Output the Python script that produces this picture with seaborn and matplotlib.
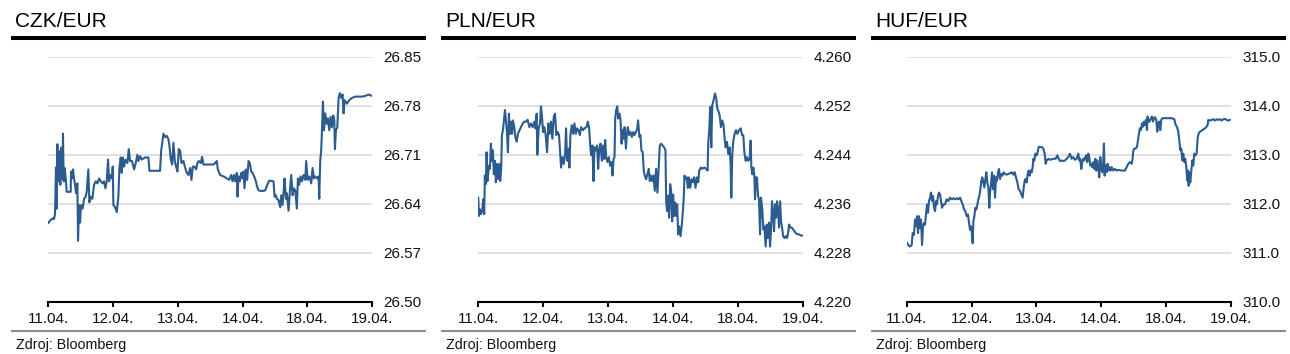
import numpy as np
import pandas as pd
import matplotlib
matplotlib.use("Agg")
import matplotlib.pyplot as plt
import seaborn as sns
from matplotlib.lines import Line2D

sns.set_style("white")
plt.rcParams['font.family'] = ['Liberation Sans', 'DejaVu Sans']

# ---------------- data ----------------
date_labels = ["11.04.", "12.04.", "13.04.", "14.04.", "18.04.", "19.04."]
titles = ["CZK/EUR", "PLN/EUR", "HUF/EUR"]
source_text = "Zdroj: Bloomberg"

czk_ticks = [26.50, 26.57, 26.64, 26.71, 26.78, 26.85]
pln_ticks = [4.220, 4.228, 4.236, 4.244, 4.252, 4.260]
huf_ticks = [310.0, 311.0, 312.0, 313.0, 314.0, 315.0]

# time in trading days from 11.04. (0) to 19.04. (5)
czk_t = [0.000, 0.031, 0.072, 0.092, 0.108, 0.123, 0.134, 0.144, 0.159, 0.175,
         0.190, 0.206, 0.221, 0.231, 0.242, 0.257, 0.273, 0.288, 0.350, 0.355,
         0.370, 0.386, 0.401, 0.417, 0.432, 0.453, 0.463, 0.478, 0.494, 0.509,
         0.535, 0.556, 0.581, 0.597, 0.622, 0.638, 0.658, 0.684, 0.710, 0.736,
         0.761, 0.787, 0.813, 0.844, 0.864, 0.885, 0.905, 0.926, 0.941, 0.967,
         0.988, 0.998, 1.008, 1.034, 1.060, 1.085, 1.101, 1.121, 1.137, 1.152,
         1.173, 1.193, 1.224, 1.245, 1.265, 1.296, 1.327, 1.353, 1.378, 1.394,
         1.420, 1.445, 1.497, 1.548, 1.564, 1.728, 1.744, 1.759, 1.780, 1.806,
         1.831, 1.857, 1.872, 1.893, 1.914, 1.934, 1.955, 1.975, 1.996, 2.016,
         2.037, 2.058, 2.088, 2.109, 2.140, 2.166, 2.191, 2.212, 2.232, 2.258,
         2.284, 2.304, 2.325, 2.356, 2.376, 2.397, 2.500, 2.551, 2.577, 2.603,
         2.618, 2.654, 2.706, 2.757, 2.793, 2.824, 2.845, 2.865, 2.886, 2.911,
         2.922, 2.937, 2.958, 2.978, 2.999, 3.014, 3.030, 3.050, 3.071, 3.092,
         3.112, 3.133, 3.153, 3.179, 3.205, 3.225, 3.246, 3.297, 3.349, 3.380,
         3.410, 3.477, 3.493, 3.513, 3.529, 3.554, 3.580, 3.596, 3.616, 3.637,
         3.647, 3.668, 3.683, 3.709, 3.729, 3.750, 3.771, 3.791, 3.812, 3.837,
         3.853, 3.873, 3.894, 3.915, 3.940, 3.966, 3.981, 4.002, 4.028, 4.059,
         4.079, 4.100, 4.120, 4.151, 4.172, 4.182, 4.197, 4.213, 4.223, 4.239,
         4.254, 4.275, 4.295, 4.316, 4.336, 4.357, 4.378, 4.398, 4.414, 4.424,
         4.439, 4.460, 4.480, 4.501, 4.521, 4.542, 4.557, 4.573, 4.609, 4.645,
         4.686, 4.737, 4.789, 4.840, 4.892, 4.943, 4.995]
czk_v = [26.612, 26.616, 26.619, 26.618, 26.625, 26.692, 26.633, 26.725, 26.672, 26.715,
         26.667, 26.720, 26.676, 26.740, 26.672, 26.691, 26.676, 26.657, 26.657, 26.686,
         26.676, 26.689, 26.676, 26.667, 26.655, 26.669, 26.587, 26.638, 26.613, 26.638,
         26.633, 26.647, 26.650, 26.657, 26.689, 26.642, 26.650, 26.647, 26.667, 26.672,
         26.669, 26.676, 26.672, 26.669, 26.672, 26.662, 26.672, 26.703, 26.672, 26.681,
         26.676, 26.693, 26.638, 26.635, 26.628, 26.650, 26.691, 26.706, 26.684, 26.706,
         26.693, 26.703, 26.698, 26.718, 26.701, 26.701, 26.689, 26.698, 26.710, 26.701,
         26.708, 26.703, 26.706, 26.706, 26.687, 26.687, 26.715, 26.725, 26.740, 26.735,
         26.737, 26.732, 26.723, 26.703, 26.696, 26.727, 26.701, 26.693, 26.686, 26.718,
         26.716, 26.698, 26.701, 26.693, 26.684, 26.681, 26.691, 26.674, 26.693, 26.693,
         26.689, 26.698, 26.701, 26.698, 26.707, 26.696, 26.696, 26.696, 26.698, 26.701,
         26.689, 26.681, 26.679, 26.676, 26.674, 26.681, 26.672, 26.681, 26.672, 26.684,
         26.650, 26.679, 26.672, 26.684, 26.676, 26.686, 26.662, 26.689, 26.674, 26.701,
         26.698, 26.686, 26.684, 26.679, 26.672, 26.664, 26.659, 26.658, 26.659, 26.667,
         26.673, 26.672, 26.650, 26.652, 26.647, 26.645, 26.635, 26.652, 26.638, 26.662,
         26.676, 26.647, 26.655, 26.630, 26.657, 26.681, 26.652, 26.662, 26.659, 26.633,
         26.676, 26.667, 26.679, 26.672, 26.681, 26.674, 26.701, 26.674, 26.679, 26.669,
         26.691, 26.676, 26.679, 26.676, 26.679, 26.647, 26.701, 26.718, 26.742, 26.786,
         26.745, 26.769, 26.754, 26.762, 26.745, 26.764, 26.749, 26.766, 26.759, 26.718,
         26.745, 26.749, 26.791, 26.798, 26.791, 26.796, 26.769, 26.788, 26.783, 26.788,
         26.791, 26.793, 26.793, 26.793, 26.794, 26.796, 26.794]

pln_t = [0.000, 0.009, 0.024, 0.040, 0.060, 0.076, 0.091, 0.101, 0.117, 0.127,
         0.143, 0.163, 0.179, 0.194, 0.210, 0.225, 0.240, 0.256, 0.271, 0.287,
         0.307, 0.323, 0.338, 0.354, 0.364, 0.380, 0.395, 0.411, 0.426, 0.441,
         0.457, 0.472, 0.488, 0.503, 0.519, 0.534, 0.555, 0.570, 0.591, 0.611,
         0.637, 0.658, 0.684, 0.709, 0.735, 0.761, 0.787, 0.812, 0.838, 0.864,
         0.879, 0.900, 0.910, 0.931, 0.951, 0.967, 0.982, 0.998, 1.018, 1.039,
         1.060, 1.080, 1.101, 1.121, 1.142, 1.163, 1.183, 1.204, 1.225, 1.245,
         1.261, 1.276, 1.297, 1.317, 1.338, 1.353, 1.369, 1.389, 1.405, 1.420,
         1.441, 1.462, 1.482, 1.503, 1.523, 1.544, 1.565, 1.585, 1.616, 1.637,
         1.668, 1.688, 1.709, 1.724, 1.740, 1.760, 1.776, 1.791, 1.812, 1.832,
         1.848, 1.863, 1.884, 1.905, 1.925, 1.941, 1.956, 1.972, 1.992, 2.013,
         2.033, 2.054, 2.069, 2.085, 2.100, 2.111, 2.126, 2.142, 2.157, 2.178,
         2.193, 2.209, 2.224, 2.239, 2.255, 2.276, 2.291, 2.306, 2.327, 2.348,
         2.368, 2.389, 2.409, 2.430, 2.451, 2.463, 2.484, 2.499, 2.515, 2.535,
         2.551, 2.566, 2.587, 2.607, 2.628, 2.644, 2.659, 2.680, 2.700, 2.721,
         2.741, 2.762, 2.783, 2.798, 2.819, 2.844, 2.865, 2.886, 2.896, 2.911,
         2.927, 2.942, 2.958, 2.973, 2.989, 3.004, 3.020, 3.035, 3.051, 3.066,
         3.081, 3.097, 3.118, 3.138, 3.154, 3.169, 3.179, 3.195, 3.215, 3.231,
         3.246, 3.267, 3.288, 3.308, 3.329, 3.349, 3.370, 3.391, 3.406, 3.432,
         3.452, 3.483, 3.514, 3.535, 3.545, 3.561, 3.576, 3.592, 3.607, 3.628,
         3.648, 3.669, 3.684, 3.705, 3.720, 3.741, 3.762, 3.782, 3.798, 3.813,
         3.834, 3.854, 3.875, 3.890, 3.901, 3.916, 3.932, 3.952, 3.973, 3.993,
         4.019, 4.045, 4.065, 4.086, 4.102, 4.122, 4.143, 4.163, 4.184, 4.199,
         4.210, 4.225, 4.241, 4.256, 4.266, 4.282, 4.297, 4.313, 4.328, 4.344,
         4.359, 4.380, 4.395, 4.411, 4.431, 4.447, 4.462, 4.483, 4.498, 4.514,
         4.529, 4.545, 4.560, 4.576, 4.591, 4.606, 4.622, 4.637, 4.653, 4.668,
         4.684, 4.699, 4.720, 4.740, 4.761, 4.776, 4.792, 4.813, 4.833, 4.854,
         4.874, 4.895, 4.921, 4.946, 4.972, 4.998]
pln_v = [4.2370, 4.2340, 4.2351, 4.2343, 4.2348, 4.2367, 4.2343, 4.2406, 4.2392, 4.2444,
         4.2397, 4.2422, 4.2417, 4.2458, 4.2430, 4.2447, 4.2408, 4.2430, 4.2395, 4.2425,
         4.2400, 4.2425, 4.2397, 4.2419, 4.2472, 4.2480, 4.2496, 4.2513, 4.2496, 4.2477,
         4.2444, 4.2507, 4.2474, 4.2494, 4.2474, 4.2496, 4.2485, 4.2469, 4.2461, 4.2474,
         4.2480, 4.2485, 4.2491, 4.2494, 4.2494, 4.2497, 4.2485, 4.2491, 4.2485, 4.2494,
         4.2483, 4.2507, 4.2440, 4.2483, 4.2491, 4.2519, 4.2502, 4.2477, 4.2485, 4.2472,
         4.2444, 4.2491, 4.2474, 4.2494, 4.2466, 4.2502, 4.2507, 4.2472, 4.2477, 4.2472,
         4.2444, 4.2419, 4.2436, 4.2425, 4.2441, 4.2483, 4.2430, 4.2450, 4.2419, 4.2472,
         4.2488, 4.2474, 4.2491, 4.2474, 4.2483, 4.2480, 4.2472, 4.2485, 4.2480, 4.2483,
         4.2485, 4.2494, 4.2483, 4.2458, 4.2439, 4.2455, 4.2397, 4.2452, 4.2447, 4.2455,
         4.2417, 4.2447, 4.2458, 4.2430, 4.2455, 4.2433, 4.2464, 4.2436, 4.2428, 4.2436,
         4.2422, 4.2428, 4.2406, 4.2433, 4.2436, 4.2499, 4.2513, 4.2519, 4.2499, 4.2507,
         4.2496, 4.2458, 4.2480, 4.2466, 4.2485, 4.2450, 4.2474, 4.2485, 4.2472, 4.2477,
         4.2469, 4.2477, 4.2472, 4.2477, 4.2483, 4.2496, 4.2469, 4.2472, 4.2447, 4.2444,
         4.2414, 4.2406, 4.2400, 4.2408, 4.2417, 4.2397, 4.2406, 4.2397, 4.2406, 4.2381,
         4.2417, 4.2378, 4.2425, 4.2455, 4.2458, 4.2455, 4.2452, 4.2447, 4.2364, 4.2348,
         4.2373, 4.2337, 4.2392, 4.2381, 4.2331, 4.2375, 4.2340, 4.2362, 4.2340, 4.2359,
         4.2310, 4.2323, 4.2307, 4.2326, 4.2348, 4.2373, 4.2406, 4.2400, 4.2403, 4.2386,
         4.2403, 4.2386, 4.2400, 4.2395, 4.2403, 4.2386, 4.2403, 4.2395, 4.2414, 4.2419,
         4.2417, 4.2419, 4.2417, 4.2414, 4.2458, 4.2480, 4.2518, 4.2452, 4.2521, 4.2529,
         4.2540, 4.2532, 4.2516, 4.2510, 4.2505, 4.2485, 4.2496, 4.2488, 4.2466, 4.2452,
         4.2461, 4.2441, 4.2452, 4.2425, 4.2370, 4.2441, 4.2463, 4.2474, 4.2480, 4.2474,
         4.2480, 4.2483, 4.2472, 4.2472, 4.2444, 4.2430, 4.2436, 4.2430, 4.2433, 4.2463,
         4.2419, 4.2408, 4.2419, 4.2406, 4.2367, 4.2403, 4.2403, 4.2373, 4.2367, 4.2310,
         4.2370, 4.2348, 4.2318, 4.2323, 4.2290, 4.2326, 4.2304, 4.2329, 4.2290, 4.2318,
         4.2364, 4.2345, 4.2315, 4.2359, 4.2337, 4.2364, 4.2348, 4.2321, 4.2364, 4.2331,
         4.2321, 4.2307, 4.2304, 4.2307, 4.2304, 4.2312, 4.2326, 4.2321, 4.2321, 4.2318,
         4.2315, 4.2312, 4.2310, 4.2310, 4.2308, 4.2308]

huf_t = [0.000, 0.025, 0.051, 0.077, 0.092, 0.113, 0.128, 0.144, 0.159, 0.175,
         0.190, 0.205, 0.221, 0.236, 0.252, 0.267, 0.282, 0.298, 0.313, 0.329,
         0.344, 0.360, 0.375, 0.390, 0.406, 0.421, 0.437, 0.452, 0.467, 0.483,
         0.498, 0.514, 0.529, 0.545, 0.565, 0.591, 0.616, 0.642, 0.668, 0.694,
         0.719, 0.745, 0.771, 0.796, 0.822, 0.843, 0.863, 0.884, 0.904, 0.925,
         0.945, 0.961, 0.976, 0.992, 1.007, 1.017, 1.028, 1.043, 1.058, 1.074,
         1.089, 1.105, 1.120, 1.136, 1.151, 1.166, 1.182, 1.197, 1.213, 1.228,
         1.243, 1.259, 1.274, 1.285, 1.300, 1.315, 1.331, 1.346, 1.362, 1.377,
         1.392, 1.408, 1.423, 1.439, 1.454, 1.475, 1.495, 1.516, 1.541, 1.567,
         1.593, 1.619, 1.644, 1.665, 1.685, 1.706, 1.726, 1.747, 1.768, 1.788,
         1.804, 1.819, 1.834, 1.850, 1.865, 1.881, 1.896, 1.911, 1.927, 1.942,
         1.953, 1.968, 1.983, 2.004, 2.019, 2.035, 2.053, 2.081, 2.107, 2.127,
         2.143, 2.158, 2.184, 2.210, 2.261, 2.297, 2.323, 2.343, 2.364, 2.389,
         2.415, 2.441, 2.491, 2.517, 2.543, 2.568, 2.594, 2.620, 2.646, 2.661,
         2.676, 2.692, 2.707, 2.723, 2.738, 2.753, 2.769, 2.784, 2.800, 2.815,
         2.831, 2.846, 2.861, 2.877, 2.892, 2.908, 2.923, 2.938, 2.954, 2.969,
         2.985, 3.000, 3.016, 3.031, 3.041, 3.052, 3.067, 3.082, 3.098, 3.113,
         3.129, 3.144, 3.159, 3.185, 3.211, 3.237, 3.262, 3.314, 3.365, 3.391,
         3.416, 3.442, 3.468, 3.483, 3.494, 3.509, 3.529, 3.550, 3.565, 3.581,
         3.596, 3.612, 3.627, 3.643, 3.658, 3.673, 3.689, 3.704, 3.714, 3.730,
         3.745, 3.766, 3.781, 3.797, 3.812, 3.828, 3.848, 3.863, 3.879, 3.894,
         3.910, 3.925, 3.941, 3.982, 4.033, 4.084, 4.126, 4.146, 4.167, 4.187,
         4.203, 4.218, 4.234, 4.249, 4.264, 4.280, 4.295, 4.311, 4.326, 4.336,
         4.347, 4.357, 4.372, 4.388, 4.403, 4.418, 4.434, 4.454, 4.470, 4.485,
         4.501, 4.521, 4.547, 4.573, 4.598, 4.624, 4.640, 4.650, 4.676, 4.701,
         4.727, 4.753, 4.778, 4.804, 4.830, 4.855, 4.881, 4.907, 4.932, 4.958,
         4.984]
huf_v = [311.213, 311.158, 311.124, 311.158, 311.400, 311.365, 311.676, 311.538, 311.745, 311.400,
         311.745, 311.503, 311.676, 311.158, 311.538, 311.607, 311.572, 311.779, 311.986, 311.814,
         312.055, 312.124, 312.227, 312.055, 312.158, 311.917, 311.848, 312.055, 311.986, 312.158,
         312.227, 312.193, 312.055, 311.917, 311.986, 311.986, 312.089, 312.055, 312.124, 312.089,
         312.110, 312.089, 312.110, 312.089, 312.124, 312.055, 311.986, 311.882, 311.848, 311.745,
         311.779, 311.607, 311.469, 311.538, 311.365, 311.193, 311.641, 311.745, 311.917, 311.882,
         311.986, 312.089, 312.158, 312.296, 312.469, 312.538, 312.434, 312.331, 312.503, 312.641,
         312.434, 312.331, 311.917, 312.227, 312.400, 312.641, 312.296, 312.572, 312.124, 312.538,
         312.469, 312.641, 312.710, 312.503, 312.607, 312.572, 312.641, 312.607, 312.593, 312.607,
         312.621, 312.641, 312.593, 312.641, 312.538, 312.434, 312.296, 312.262, 312.193, 312.124,
         312.331, 312.469, 312.503, 312.434, 312.607, 312.676, 312.572, 312.676, 312.641, 312.745,
         312.917, 312.883, 313.021, 312.986, 313.055, 313.158, 313.158, 313.158, 313.124, 313.021,
         312.814, 312.883, 312.917, 312.896, 312.917, 312.917, 312.986, 312.917, 312.869, 312.883,
         312.869, 312.883, 312.952, 313.021, 312.917, 312.952, 312.896, 312.917, 313.021, 312.883,
         312.917, 312.710, 312.848, 312.917, 312.883, 312.952, 312.986, 312.848, 313.021, 312.952,
         312.779, 312.814, 312.745, 312.848, 312.710, 312.917, 312.676, 312.883, 312.745, 312.538,
         312.952, 312.745, 312.641, 312.848, 313.227, 312.572, 312.779, 312.641, 312.814, 312.676,
         312.745, 312.676, 312.745, 312.676, 312.710, 312.676, 312.690, 312.676, 312.676, 312.745,
         312.814, 312.848, 312.814, 312.917, 313.090, 313.124, 313.124, 313.158, 313.296, 313.434,
         313.538, 313.503, 313.641, 313.572, 313.676, 313.607, 313.710, 313.503, 313.779, 313.676,
         313.676, 313.745, 313.779, 313.676, 313.745, 313.765, 313.710, 313.469, 313.641, 313.676,
         313.503, 313.710, 313.745, 313.745, 313.745, 313.745, 313.724, 313.607, 313.572, 313.469,
         313.296, 313.090, 313.124, 312.883, 313.021, 312.848, 312.917, 312.745, 312.469, 312.676,
         312.365, 312.641, 312.434, 312.676, 312.883, 312.779, 313.021, 312.986, 313.021, 313.331,
         313.434, 313.469, 313.490, 313.517, 313.538, 313.572, 313.607, 313.710, 313.696, 313.710,
         313.724, 313.696, 313.724, 313.710, 313.724, 313.696, 313.724, 313.731, 313.710, 313.696,
         313.710]

# ---------------- styling ----------------
LINE_COLOR = "#2b5b8f"
GRID_COLOR = "#d9d9d9"
W, H = 1290, 354

panels = [
    (titles[0], czk_t, czk_v, czk_ticks, "{:.2f}", 48.0, 0),
    (titles[1], pln_t, pln_v, pln_ticks, "{:.3f}", 478.3, 430),
    (titles[2], huf_t, huf_v, huf_ticks, "{:.1f}", 906.7, 860),
]

fig = plt.figure(figsize=(W / 100, H / 100), dpi=100)
fig.patch.set_facecolor("white")

for title, t, v, ticks, fmt, left_px, off in panels:
    ax = fig.add_axes([left_px / W, (H - 301.7) / H, 324.3 / W, 245.0 / H])
    df = pd.DataFrame({"t": t, "v": v})
    sns.lineplot(data=df, x="t", y="v", ax=ax, color=LINE_COLOR, lw=1.5,
                 estimator=None, sort=False)
    ax.set_xlim(0, 5)
    ax.set_ylim(ticks[0], ticks[-1])
    ax.set_yticks(ticks)
    ax.set_yticklabels([fmt.format(x) for x in ticks])
    ax.set_xticks(range(len(date_labels)))
    ax.set_xticklabels(date_labels)
    ax.set_xlabel("")
    ax.set_ylabel("")
    ax.yaxis.tick_right()
    ax.grid(axis="y", color=GRID_COLOR, lw=1.1)
    ax.grid(axis="x", visible=False)
    ax.set_axisbelow(True)
    for s in ["top", "left", "right"]:
        ax.spines[s].set_visible(False)
    ax.spines["bottom"].set_color("black")
    ax.spines["bottom"].set_linewidth(1.5)
    ax.tick_params(axis="y", length=0, pad=8, labelsize=11, colors="#111111")
    ax.tick_params(axis="x", bottom=True, direction="out", length=3.5, width=1.5,
                   pad=4, labelsize=11, color="black", labelcolor="#111111")
    ax.patch.set_alpha(0)

    fig.text((off + 15) / W, 1 - 26.7 / H, title, fontsize=15, va="baseline",
             color="black")
    fig.add_artist(Line2D([(off + 11) / W, (off + 426) / W], [1 - 38 / H] * 2,
                          color="black", lw=2.9, solid_capstyle="butt"))
    fig.add_artist(Line2D([(off + 11) / W, (off + 426) / W], [1 - 330.7 / H] * 2,
                          color="#8c8c8c", lw=1.5, solid_capstyle="butt"))
    fig.text((off + 16) / W, 1 - 349.5 / H, source_text, fontsize=10.3,
             va="baseline", color="#111111")

fig.savefig("out.png", dpi=100, facecolor="white")
